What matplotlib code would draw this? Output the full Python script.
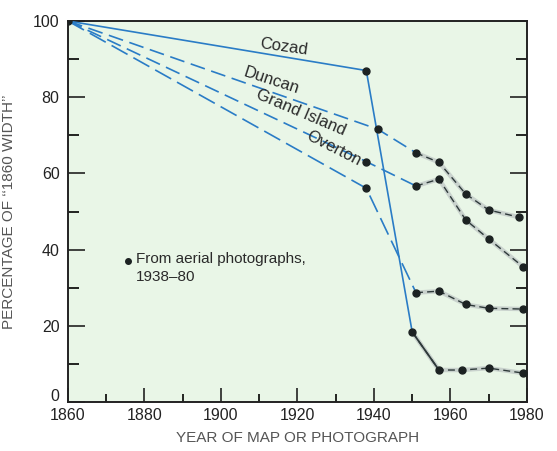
import matplotlib
matplotlib.use("Agg")
import matplotlib.pyplot as plt
import matplotlib.transforms as mtransforms
from matplotlib.ticker import MultipleLocator

plt.rcParams["font.family"] = ["Liberation Sans", "DejaVu Sans"]

# Channel width as a percentage of the 1860 width
cozad_years = [1860, 1938, 1950, 1957, 1963, 1970, 1979]
cozad_pct = [100, 87, 18.4, 8.4, 8.4, 8.9, 7.6]

duncan_years = [1860, 1941, 1951, 1957, 1964, 1970, 1978]
duncan_pct = [100, 71.6, 65.4, 62.9, 54.6, 50.4, 48.5]

grand_island_years = [1860, 1938, 1951, 1957, 1964, 1970, 1979]
grand_island_pct = [100, 63.1, 56.7, 58.5, 47.8, 42.8, 35.5]

overton_years = [1860, 1938, 1951, 1957, 1964, 1970, 1979]
overton_pct = [100, 56.1, 28.7, 29.1, 25.6, 24.6, 24.4]

x_ticks = [1860, 1880, 1900, 1920, 1940, 1960, 1980]
y_ticks = [0, 20, 40, 60, 80, 100]

BLUE = "#2a7cc6"
DARK = "#2e3a3a"
HAZE = "#c9d2cd"
BG = "#e9f6e7"

fig = plt.figure(figsize=(5.57, 4.51), dpi=100)
ax = fig.add_axes([0.122, 0.1086, 0.824, 0.8448])
ax.set_facecolor(BG)

series = [
    ("Cozad", cozad_years, cozad_pct, "-"),
    ("Duncan", duncan_years, duncan_pct, (0, (9, 4))),
    ("Grand Island", grand_island_years, grand_island_pct, (0, (9, 4))),
    ("Overton", overton_years, overton_pct, (0, (11, 4))),
]

for name, yrs, pct, ls in series:
    # historical map estimate to the first photograph, then the first drop
    ax.plot(yrs[:3], pct[:3], color=BLUE, lw=1.2, ls=ls, zorder=3)
    # later photograph-to-photograph segments
    ax.plot(yrs[2:], pct[2:], color=HAZE, lw=3.2, solid_capstyle="round", zorder=2)
    ax.plot(yrs[2:], pct[2:], color=DARK, lw=1.0, ls=(0, (5, 3)), zorder=3)
    ax.plot(yrs[1:], pct[1:], ls="none", marker="o", ms=5, color="#1c2222", zorder=4)

ax.plot([1950, 1957], [cozad_pct[2], cozad_pct[3]], color=DARK, lw=1.3, zorder=3)
ax.plot([cozad_years[0]], [cozad_pct[0]], marker="o", ms=5, color="#1c2222", zorder=5)

# series names along their lines
labels = [
    ("Cozad", 1916.5, 93.2, -8),
    ("Duncan", 1913.3, 84.3, -18),
    ("Grand Island", 1920.9, 76.0, -23),
    ("Overton", 1929.5, 66.6, -27),
]
for text, x, y, rot in labels:
    ax.text(x, y, text, rotation=rot, rotation_mode="anchor", ha="center",
            va="center", fontsize=12, color="#2a2a2a")

ax.plot([1875.7], [37.0], marker="o", ms=4, color="#1c2222")
ax.text(1877.8, 37.0, "From aerial photographs,\n1938\u201380", fontsize=11,
        color="#2a2a2a", va="center", ha="left", linespacing=1.3,
        transform=ax.transData)
# the two-line note is centred on its first line
ax.texts[-1].set_va("top")
ax.texts[-1].set_y(39.3)

ax.set_xlim(1860, 1980)
ax.set_ylim(0, 100)
ax.set_xticks(x_ticks)
ax.set_yticks(y_ticks)
ax.xaxis.set_minor_locator(MultipleLocator(10))
ax.yaxis.set_minor_locator(MultipleLocator(10))
ax.tick_params(axis="both", which="major", direction="in", labelsize=11.5,
               colors="#222222", width=1.2)
ax.tick_params(axis="y", which="major", length=12, right=True, pad=6)
ax.tick_params(axis="y", which="minor", direction="in", length=8, right=True, width=1.2)
ax.tick_params(axis="x", which="major", length=10, pad=4)
ax.tick_params(axis="x", which="minor", direction="in", length=6, width=1.2)
for s in ax.spines.values():
    s.set_linewidth(1.4)
    s.set_color("#222222")

# lift the "0" label clear of the first year label
fig.canvas.draw()
zero_label = ax.yaxis.get_major_ticks()[0].label1
zero_label.set_transform(zero_label.get_transform() +
                         mtransforms.ScaledTranslation(0, 7 / 100, fig.dpi_scale_trans))

ax.set_xlabel("YEAR OF MAP OR PHOTOGRAPH", fontsize=11, color="#555555", labelpad=6)
ax.set_ylabel("PERCENTAGE OF \u2018\u20181860 WIDTH\u2019\u2019", fontsize=11,
              color="#555555", labelpad=12)

fig.savefig("out.png", dpi=100, facecolor="white")
